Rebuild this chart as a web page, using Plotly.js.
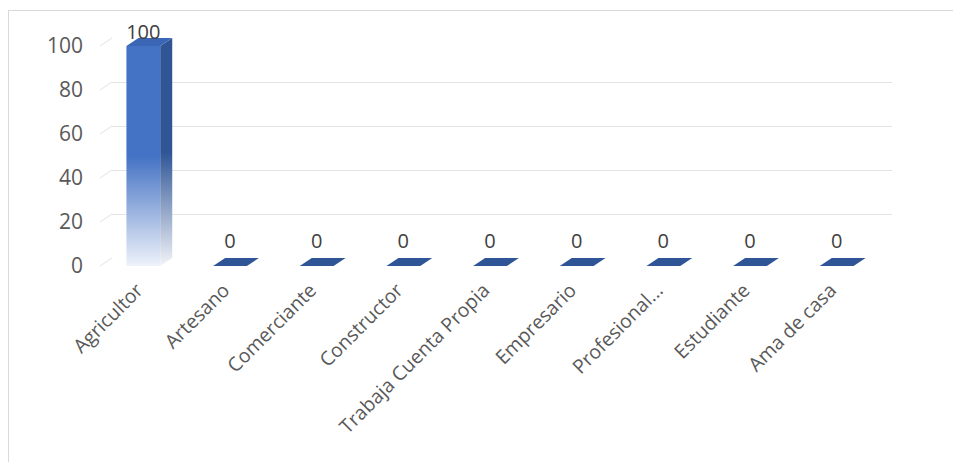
<!DOCTYPE html>
<html><head><meta charset="utf-8">
<script src="https://cdn.plot.ly/plotly-3.0.1.min.js"></script>
<style>
body{margin:0;padding:0;background:#fff;}
#wrap{position:relative;width:953px;height:462px;overflow:hidden;}
#chart{position:absolute;left:0;top:0;width:953px;height:462px;}
#frame{position:absolute;left:8px;top:10px;width:960px;height:470px;border:1px solid #d9d9d9;pointer-events:none;}
</style></head>
<body><div id="wrap"><div id="chart"></div><div id="frame"></div></div>
<script>
var categories = ["Agricultor","Artesano","Comerciante","Constructor","Trabaja Cuenta Propia","Empresario","Profesional...","Estudiante","Ama de casa"];
var values = [100,0,0,0,0,0,0,0,0];
var yTicks = [0,20,40,60,80,100];

var FONT = '"Open Sans", sans-serif';
var bar = {
  type:'bar', x:categories, y:values,
  marker:{color:'#4472C4', line:{width:0}},
  width:0.39,
  hoverinfo:'none'
};
var labels = {
  type:'scatter', mode:'markers+text', x:categories, y:values,
  text:values.map(String), textposition:'top center',
  textfont:{family:FONT, size:20, color:'#404040'},
  marker:{size:values.map(function(v){return v>0?1:20;}), color:'#ffffff', opacity:0, line:{width:0}},
  cliponaxis:false, hoverinfo:'none', showlegend:false
};
var layout = {
  width:953, height:462,
  margin:{l:100, r:73, t:46, b:196},
  showlegend:false,
  paper_bgcolor:'#fff', plot_bgcolor:'rgba(0,0,0,0)',
  xaxis:{type:'category', range:[-0.5,8.5], tickangle:-45, showgrid:false, zeroline:false, showline:false, ticks:'',
    ticklabelstandoff:8, ticklabelshift:-6,
    tickfont:{family:FONT, size:19.5, color:'#595959'}},
  yaxis:{range:[0,100], tickvals:yTicks, showgrid:true, gridcolor:'#e3e3e3', gridwidth:1, zeroline:false,
    ticks:'', ticklabelstandoff:16, showline:false,
    tickfont:{family:FONT, size:21, color:'#595959'}}
};
Plotly.newPlot('chart',[bar,labels],layout,{staticPlot:true}).then(function(gd){
  var ns='http://www.w3.org/2000/svg';
  var DX=12, DY=-8;
  var svg = gd.querySelector('svg.main-svg');
  var defs = svg.querySelector('defs') || svg.insertBefore(document.createElementNS(ns,'defs'), svg.firstChild);
  function grad(id, c, end){
    var g=document.createElementNS(ns,'linearGradient');
    g.setAttribute('id',id); g.setAttribute('x1','0'); g.setAttribute('y1','0'); g.setAttribute('x2','0'); g.setAttribute('y2','1');
    [['0',c],['0.5',c],['1',end]].forEach(function(s){
      var st=document.createElementNS(ns,'stop'); st.setAttribute('offset',s[0]); st.setAttribute('stop-color',s[1]); g.appendChild(st);
    });
    defs.appendChild(g);
  }
  grad('frontGrad','#4472C4','#EEF2FA');
  grad('sideGrad','#2F5597','#F2F4F8');
  gd.querySelectorAll('.barlayer .point path').forEach(function(p){ p.style.fill='url(#frontGrad)'; });

  var xa=gd._fullLayout.xaxis, ya=gd._fullLayout.yaxis;
  gd.querySelectorAll('.gridlayer').forEach(function(g){ g.setAttribute('transform','translate('+DX+','+DY+')'); });
  var plotG = gd._fullLayout._plots.xy.plot.node();
  var back = document.createElementNS(ns,'g');
  yTicks.forEach(function(v){
    var y=ya.l2p(v);
    var l=document.createElementNS(ns,'path');
    l.setAttribute('d','M0,'+y+'L'+DX+','+(y+DY));
    l.setAttribute('stroke','#e3e3e3'); l.setAttribute('stroke-width','1'); l.setAttribute('fill','none');
    back.appendChild(l);
  });
  plotG.insertBefore(back, plotG.firstChild);

  var faces=document.createElementNS(ns,'g');
  var half = 0.39/2;
  values.forEach(function(v,i){
    var x0=xa.l2p(i-half), x1=xa.l2p(i+half);
    var yT=ya.l2p(v), y0=ya.l2p(0);
    if (yT < y0-1){
      var s=document.createElementNS(ns,'path');
      s.setAttribute('d','M'+x1+','+yT+'L'+(x1+DX)+','+(yT+DY)+'L'+(x1+DX)+','+(y0+DY)+'L'+x1+','+y0+'Z');
      s.setAttribute('fill','url(#sideGrad)');
      faces.appendChild(s);
    }
    var t=document.createElementNS(ns,'path');
    t.setAttribute('d','M'+x0+','+yT+'L'+x1+','+yT+'L'+(x1+DX)+','+(yT+DY)+'L'+(x0+DX)+','+(yT+DY)+'Z');
    t.setAttribute('fill', v>0 ? '#3A66B5' : '#2F5597');
    faces.appendChild(t);
  });
  var sl = plotG.querySelector('.scatterlayer');
  if (sl) plotG.insertBefore(faces, sl); else plotG.appendChild(faces);
});
</script></body></html>
